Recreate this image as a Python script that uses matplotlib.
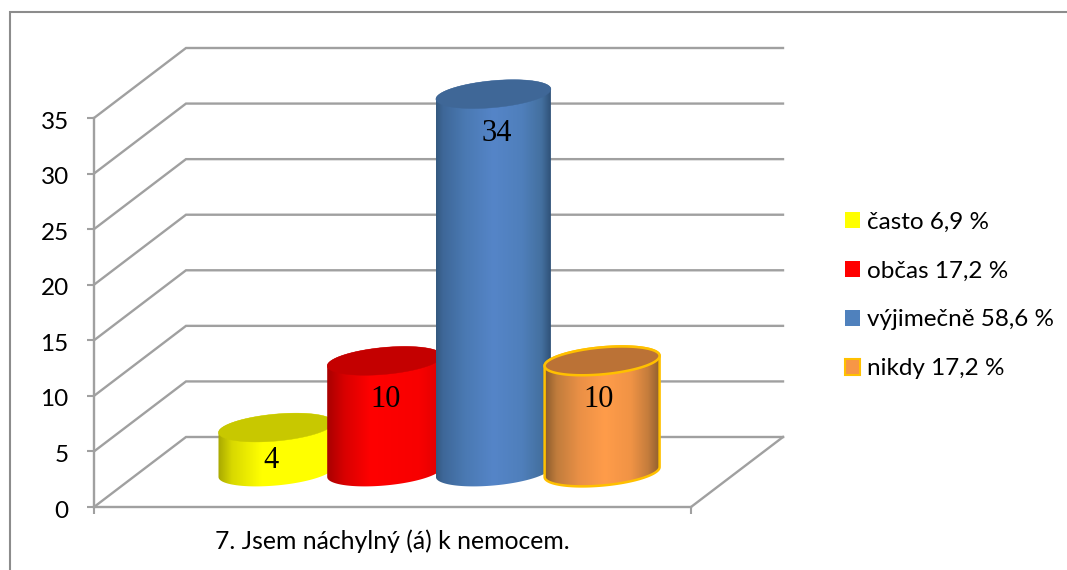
import numpy as np
import matplotlib
matplotlib.use("Agg")
import matplotlib.pyplot as plt
from matplotlib.patches import PathPatch, Patch, Rectangle
from matplotlib.path import Path
from matplotlib.colors import LinearSegmentedColormap
from matplotlib.transforms import ScaledTranslation

# Chart data
categories = ["často 6,9 %", "občas 17,2 %", "výjimečně 58,6 %", "nikdy 17,2 %"]
values = [4, 10, 34, 10]
y_ticks = [0, 5, 10, 15, 20, 25, 30, 35]
x_label = "7. Jsem náchylný (á) k nemocem."

# Styling
swatch_colors = ["#ffff00", "#ff0000", "#4f81bd", "#f79646"]
cap_colors = ["#c8c800", "#c40000", "#3f6797", "#bb7236"]
side_stops = [
    [(0, "#a8a800"), (0.12, "#d8d800"), (0.38, "#ffff00"), (1, "#ffff00")],
    [(0, "#a80000"), (0.15, "#d80000"), (0.38, "#ff0000"), (0.8, "#f80000"), (1, "#e00000")],
    [(0, "#34597f"), (0.06, "#3e6798"), (0.25, "#4a79b2"), (0.5, "#5585c8"), (0.75, "#4f7fbb"),
     (0.92, "#44709f"), (1, "#2f5178")],
    [(0, "#8c5c2c"), (0.1, "#c07c3c"), (0.3, "#ea9046"), (0.52, "#ff9c4a"), (0.75, "#f09345"),
     (0.9, "#c47c3c"), (1, "#8f5f2e")],
]
edge_colors = [None, None, None, "#ffc000"]
label_drop = [2.97, 3.52, 3.52, 3.52]
label_shift = [-5, 1, 3.6, -4]
GRID = "#a0a0a0"
W, H = 1067, 570

# Pixel layout of the front plane of the plot box
LEFT, RIGHT, BOTTOM, TOP = 94, 691, 507, 118
SPACING = 108.7
FIRST = 230
fig = plt.figure(figsize=(W / 100, H / 100), dpi=100, facecolor="white")
ax = fig.add_axes([LEFT / W, 1 - BOTTOM / H, (RIGHT - LEFT) / W, (BOTTOM - TOP) / H])
ax.set_facecolor("none")
xlim = ((LEFT - FIRST) / SPACING, (RIGHT - FIRST) / SPACING)
ax.set_xlim(*xlim)
ax.set_ylim(0, 35)
px_x = SPACING
px_y = (BOTTOM - TOP) / 35

# Depth of the 3D box, in data units
dx, dy = 92 / px_x, 70 / px_y

# Axes furniture
for s in ("top", "right"):
    ax.spines[s].set_visible(False)
for s in ("left", "bottom"):
    ax.spines[s].set_color(GRID)
    ax.spines[s].set_linewidth(1.7)
ax.set_yticks(y_ticks)
ax.set_xticks(list(xlim))
ax.set_xticklabels([])
ax.tick_params(axis="both", color=GRID, width=1.5, length=5.2)
ax.tick_params(axis="y", labelsize=17.5, labelcolor="black", pad=13)
tick_nudge = ScaledTranslation(0, -1.5 / 72, fig.dpi_scale_trans)
for lab in ax.get_yticklabels():
    lab.set_fontfamily("Lato")
    lab.set_transform(lab.get_transform() + tick_nudge)
ax.text(0.5 * sum(xlim), -3.1, x_label, ha="center", va="center", fontsize=17.8,
        family="Lato", color="black", clip_on=False)

# Back wall and side gridlines
for v in y_ticks:
    ax.plot([xlim[0], xlim[0] + dx, xlim[1] + dx], [v, v + dy, v + dy], color=GRID, lw=1.7,
            clip_on=False, zorder=1, solid_joinstyle="miter")
ax.plot([xlim[1], xlim[1] + dx], [0, dy], color=GRID, lw=1.7, clip_on=False, zorder=1)


def ellipse_points(cx, cy, a, b, k, t):
    return np.column_stack([cx + a * np.cos(t), cy + b * np.sin(t) + k * np.cos(t)])


half_w = 57.5 / px_x
semi_b = 13.5 / px_y
shear = 5.0 / px_y
base = dy / 2

for i, (v, cap, stops, edge) in enumerate(zip(values, cap_colors, side_stops, edge_colors)):
    cx = i + dx / 2
    top = base + v
    z = 3 + i
    lower = ellipse_points(cx, base, half_w, semi_b, shear, np.linspace(np.pi, 2 * np.pi, 80))
    upper = ellipse_points(cx, top, half_w, semi_b, shear, np.linspace(0, np.pi, 80))
    body = np.vstack([lower, upper, lower[:1]])
    outline = PathPatch(Path(body, closed=True), fc="none",
                        ec=edge if edge else "none", lw=1.8, clip_on=False, zorder=z + 0.05)
    clip = PathPatch(Path(body, closed=True), fc="none", ec="none",
                     transform=ax.transData)
    ax.add_patch(clip)
    ax.add_patch(outline)
    cmap = LinearSegmentedColormap.from_list(f"side{i}", stops)
    im = ax.imshow(np.linspace(0, 1, 256)[None, :], cmap=cmap, aspect="auto",
                   extent=(cx - half_w, cx + half_w, base - 3, top + 3), zorder=z)
    # The shaded side extends past the axes box, so only the cylinder outline clips it
    im.set_clip_path(clip)
    im.set_clip_box(fig.bbox)
    cap_pts = ellipse_points(cx, top, half_w, semi_b, shear, np.linspace(0, 2 * np.pi, 160))
    ax.add_patch(PathPatch(Path(cap_pts, closed=True), fc=cap,
                           ec=edge if edge else cap, lw=1.8 if edge else 0.3,
                           clip_on=False, zorder=z + 0.1))
    ax.text(cx + label_shift[i] / px_x, top - label_drop[i], str(v), ha="center", va="center",
            fontsize=22, family="Liberation Serif", color="black", zorder=20, clip_on=False)

ax.set_xlim(*xlim)
ax.set_ylim(0, 35)

# Legend
handles = [Patch(fc=c, ec="#ffc000" if e else c, lw=1.5 if e else 0)
           for c, e in zip(swatch_colors, edge_colors)]
fig.legend(handles, categories, loc="center left", bbox_to_anchor=(845 / W, 1 - 295.5 / H),
           frameon=False, prop={"family": "Lato", "size": 17.5}, handlelength=0.62, handleheight=0.62,
           labelspacing=1.15, handletextpad=0.27, borderpad=0, borderaxespad=0)

# Chart frame
fig.add_artist(Rectangle((9.5 / W, -0.02), (1090) / W, 1.02 - 12.5 / H, transform=fig.transFigure,
                         fc="none", ec="#8c8c8c", lw=1.5))

fig.savefig("out.png", dpi=100)
